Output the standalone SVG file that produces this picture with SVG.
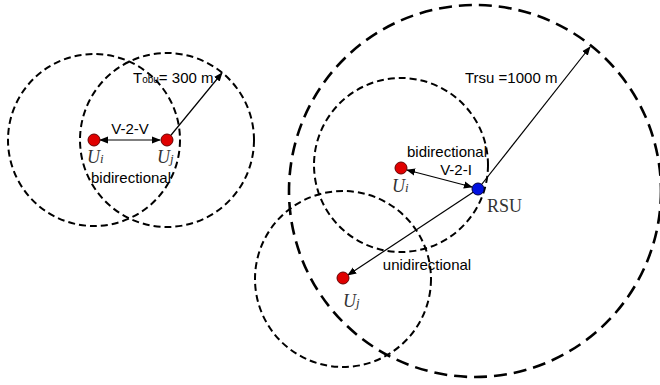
<svg xmlns="http://www.w3.org/2000/svg" width="660" height="385" viewBox="0 0 660 385">
<style>
.range{fill:none;stroke:#000;stroke-width:2;stroke-dasharray:7 4}
.big{fill:none;stroke:#000;stroke-width:2.6;stroke-dasharray:13 7}
.link{stroke:#000;stroke-width:1.2;fill:none}
.veh{fill:#e00000;stroke:#600;stroke-width:1}
.rsu{fill:#0010e0;stroke:#000040;stroke-width:1}
.lbl{font-family:"Liberation Sans",Arial,sans-serif;font-size:15px;fill:#000}
.ser{font-family:"Liberation Serif","Times New Roman",serif;font-size:18px;fill:#333}
.it{font-style:italic}
</style>
<defs>
<marker id="ah" viewBox="0 0 10 10" refX="9" refY="5" markerWidth="9" markerHeight="9" markerUnits="userSpaceOnUse" orient="auto-start-reverse">
<path d="M0,1 L10,5 L0,9 Z" fill="#000"/>
</marker>
</defs>
<g id="ranges">
<circle class="range" cx="94" cy="140" r="86"/>
<circle class="range" cx="167" cy="140" r="87"/>
<circle class="big" cx="475" cy="191" r="186"/>
<circle class="range" cx="401" cy="165" r="87"/>
<circle class="range" cx="343" cy="279" r="88"/>
</g>
<g id="connectors">
<line class="link" x1="100" y1="140" x2="160" y2="140" marker-start="url(#ah)" marker-end="url(#ah)"/>
<line class="link" x1="167" y1="140" x2="222" y2="73" marker-end="url(#ah)"/>
<line class="link" x1="407" y1="170" x2="472" y2="187" marker-start="url(#ah)" marker-end="url(#ah)"/>
<line class="link" x1="478" y1="189" x2="590" y2="47" marker-end="url(#ah)"/>
<line class="link" x1="478" y1="189" x2="348" y2="275" marker-end="url(#ah)"/>
</g>
<g id="left-Ui">
<circle class="veh" cx="94" cy="140" r="6"/>
<text class="ser it" x="87" y="163">U<tspan font-size="13">i</tspan></text>
</g>
<g id="left-Uj">
<circle class="veh" cx="167" cy="140" r="6"/>
<text class="ser it" x="157" y="163">U<tspan font-size="13">j</tspan></text>
</g>
<g id="left-labels">
<text class="lbl" x="130" y="134" text-anchor="middle">V-2-V</text>
<text class="lbl" x="131" y="183" text-anchor="middle">bidirectional</text>
<text class="lbl" x="133" y="83">T<tspan font-size="10">obu</tspan>= 300 m</text>
</g>
<g id="right-Ui">
<circle class="veh" cx="401" cy="168" r="6"/>
<text class="ser it" x="392" y="192">U<tspan font-size="13">i</tspan></text>
</g>
<g id="rsu">
<circle class="rsu" cx="478" cy="189" r="6"/>
<text class="ser" x="487" y="212">RSU</text>
</g>
<g id="right-Uj">
<circle class="veh" cx="343" cy="278" r="6"/>
<text class="ser it" x="343" y="307">U<tspan font-size="13">j</tspan></text>
</g>
<g id="right-labels">
<text class="lbl" x="447" y="157" text-anchor="middle">bidirectional</text>
<text class="lbl" x="456" y="175" text-anchor="middle">V-2-I</text>
<text class="lbl" x="465" y="83">Trsu =1000 m</text>
<text class="lbl" x="427" y="270" text-anchor="middle">unidirectional</text>
</g>
</svg>
